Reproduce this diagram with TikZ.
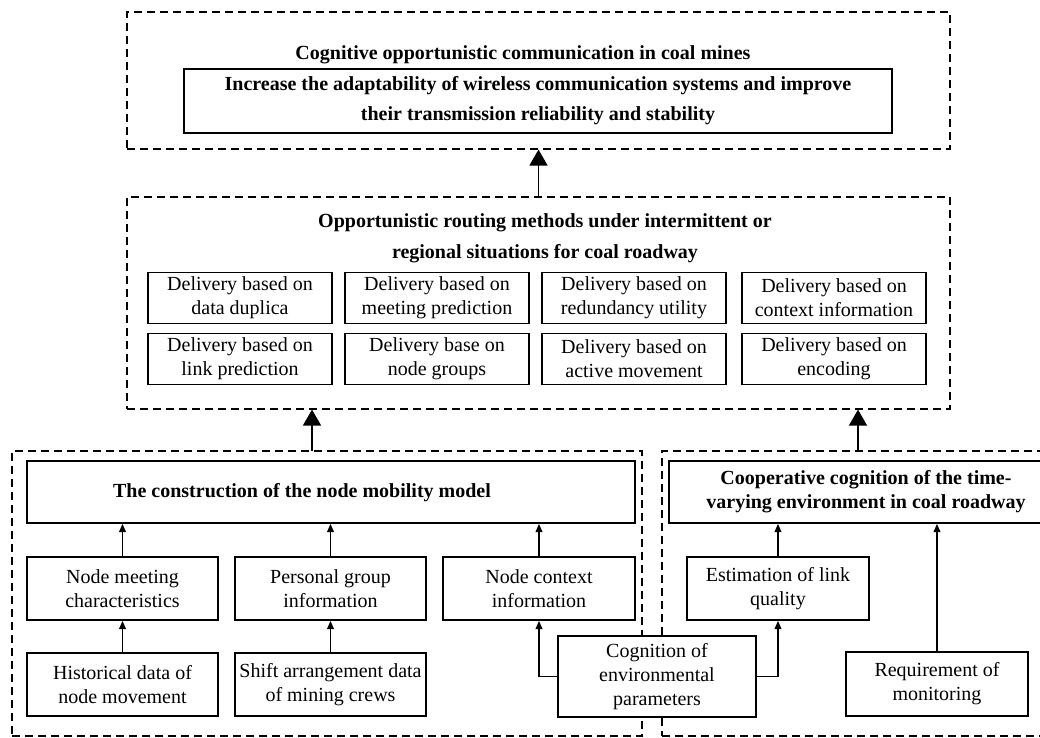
\documentclass[tikz,border=0pt]{standalone}
\usepackage{fontspec}
\setmainfont{Liberation Serif}
\usetikzlibrary{arrows.meta}

\begin{document}
\begin{tikzpicture}[x=0.5pt,y=-0.5pt,
  frame/.style={draw,dash pattern=on 4pt off 2.5pt,line width=0.6pt,inner sep=0pt},
  box/.style={draw,line width=0.8pt,fill=white,align=center,inner sep=1.5pt},
  title/.style={font=\bfseries,align=center,inner sep=0pt},
  bigarrow/.style={line width=0.8pt,-{Triangle[width=9pt,length=8pt]}},
  smallarrow/.style={line width=0.8pt,-{Triangle[width=3.4pt,length=4.2pt]}}]
  \useasboundingbox (0,0) rectangle (1040,738);
  \clip (0,0) rectangle (1040,738);

  % dashed frames
  \node[frame,minimum width=411.5pt,minimum height=68.5pt] (frameTop) at (538.5,80.5) {};
  \node[frame,minimum width=411.5pt,minimum height=106pt] (frameMid) at (538.5,303) {};
  \node[frame,minimum width=315pt,minimum height=142.5pt] (frameL) at (327,593.5) {};
  \node[frame,minimum width=206.5pt,minimum height=142.5pt] (frameR) at (868.5,593.5) {};

  % top level
  \node[title] (topTitle) at (523,55) {Cognitive opportunistic communication in coal mines};
  \node[box,font=\bfseries,minimum width=354pt,minimum height=32pt] (goal) at (538,101)
    {Increase the adaptability of wireless communication systems and improve\\[3pt]
     their transmission reliability and stability};

  % routing methods
  \node[title] (midTitle) at (545,238) {Opportunistic routing methods under intermittent or\\[3.5pt]
    regional situations for coal roadway};
  \foreach \name/\x/\y/\txt in {
      dup/240/298/{Delivery based on\\data duplica},
      meetp/437/298/{Delivery based on\\meeting prediction},
      red/634/298/{Delivery based on\\redundancy utility},
      ctxi/834/298/{Delivery based on\\context information},
      link/240/359/{Delivery based on\\link prediction},
      grp/437/359/{Delivery base on\\node groups},
      act/634/359/{Delivery based on\\active movement},
      enc/834/359/{Delivery based on\\encoding}}{
    \node[box,minimum width=92pt,minimum height=25.5pt] (\name) at (\x,\y) {\txt};
  }

  % node mobility model
  \node[box,minimum width=304pt,minimum height=31pt] (mob) at (331,492) {};
  \node[title] (mobTitle) at (302,493) {The construction of the node mobility model};
  \node[box,minimum width=95.5pt,minimum height=31.5pt] (meet) at (122.5,588.5) {Node meeting\\characteristics};
  \node[box,minimum width=95.5pt,minimum height=31.5pt] (group) at (330.5,588.5) {Personal group\\information};
  \node[box,minimum width=96pt,minimum height=31.5pt] (ctx) at (539,588.5) {Node context\\information};
  \node[box,minimum width=95.5pt,minimum height=31.5pt] (hist) at (122.5,684.5) {Historical data of\\node movement};
  \node[box,minimum width=95.5pt,minimum height=31.5pt] (shift) at (330.5,684.5) {Shift arrangement data\\of mining crews};

  % time-varying environment
  \node[box,font=\bfseries,minimum width=197pt,minimum height=31pt] (coop) at (866,492)
    {Cooperative cognition of the time-\\varying environment in coal roadway};
  \node[box,minimum width=91pt,minimum height=31.5pt] (est) at (778,588.5) {Estimation of link\\quality};
  \node[box,minimum width=91pt,minimum height=32pt] (req) at (937,684) {Requirement of\\monitoring};
  \node[box,minimum width=99pt,minimum height=40.5pt] (cog) at (657,676.5) {Cognition of\\environmental\\parameters};

  % arrows between levels
  \coordinate (upL) at (312,451);
  \coordinate (upR) at (858,451);
  \draw[bigarrow] (frameMid.north) -- (frameTop.south);
  \draw[bigarrow] (upL) -- (upL |- frameMid.south);
  \draw[bigarrow] (upR) -- (upR |- frameMid.south);

  % arrows inside
  \foreach \a in {meet,group,ctx}{
    \draw[smallarrow] (\a.north) -- (\a.north |- mob.south);
  }
  \draw[smallarrow] (hist) -- (meet);
  \draw[smallarrow] (shift) -- (group);
  \draw[smallarrow] (cog.west) -| (ctx.south);
  \draw[smallarrow] (cog.east) -| (est.south);
  \draw[smallarrow] (est.north) -- (est.north |- coop.south);
  \draw[smallarrow] (req.north) -- (req.north |- coop.south);
\end{tikzpicture}
\end{document}
